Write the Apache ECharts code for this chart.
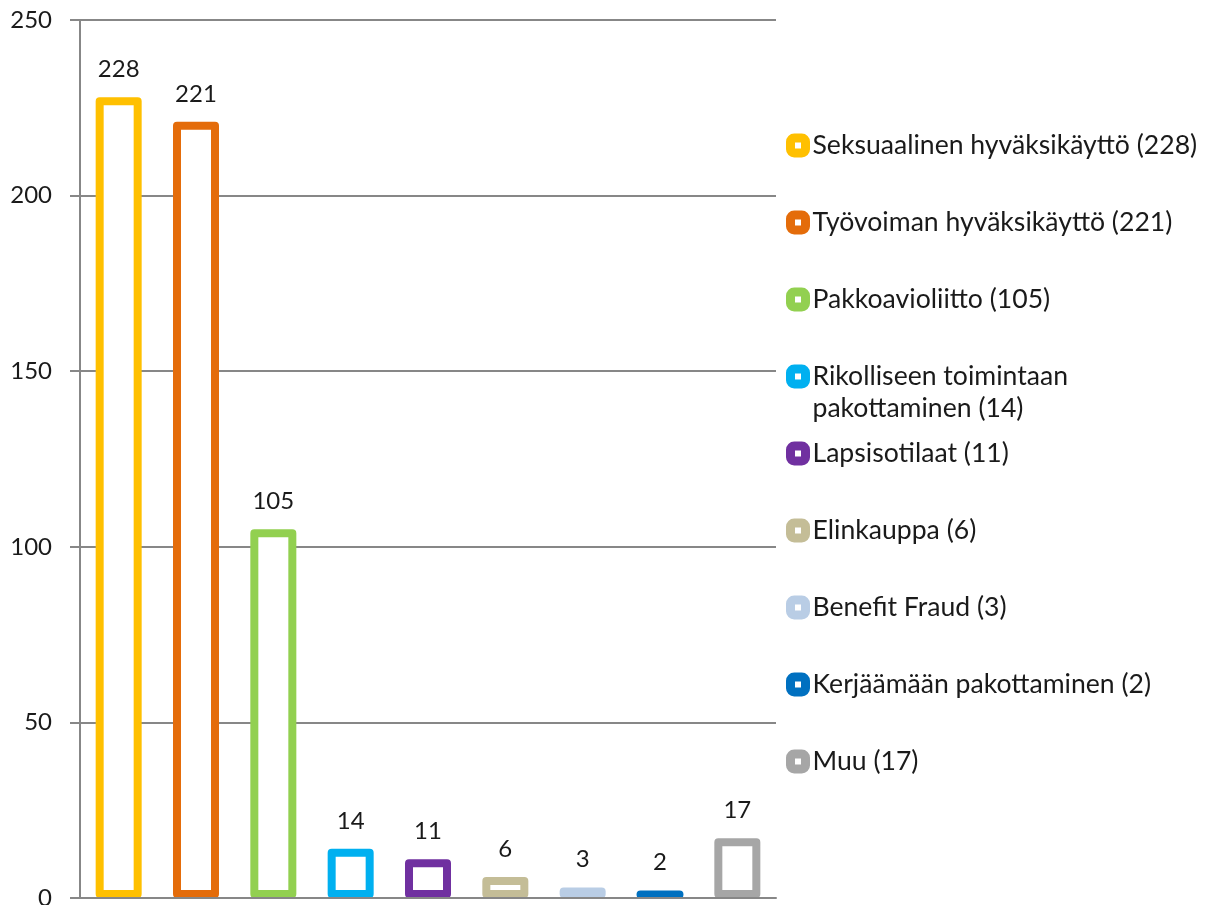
<!DOCTYPE html>
<html><head><meta charset="utf-8">
<script src="https://cdn.jsdelivr.net/npm/echarts@6/dist/echarts.min.js"></script>
<style>html,body{margin:0;padding:0;background:#fff}#c{width:1208px;height:905px}</style>
</head><body><div id="c"></div>
<script>
const categories = ['Seksuaalinen hyväksikäyttö','Työvoiman hyväksikäyttö','Pakkoavioliitto','Rikolliseen toimintaan pakottaminen','Lapsisotilaat','Elinkauppa','Benefit Fraud','Kerjäämään pakottaminen','Muu'];
const values = [228, 221, 105, 14, 11, 6, 3, 2, 17];
const legendNames = ['Seksuaalinen hyväksikäyttö (228)','Työvoiman hyväksikäyttö (221)','Pakkoavioliitto (105)','Rikolliseen toimintaan pakottaminen (14)','Lapsisotilaat (11)','Elinkauppa (6)','Benefit Fraud (3)','Kerjäämään pakottaminen (2)','Muu (17)'];
const colors = ['#FFC000','#E46C0A','#92D050','#00B0F0','#7030A0','#C4BD97','#B9CDE5','#0070C0','#A6A6A6'];
const yTicks = [0, 50, 100, 150, 200, 250];

const FONT = 'Lato';
const TXT = '#1a1a1a';
const GRAY = '#878787';
const LH = 32;
const ICON = 15;

const chart = echarts.init(document.getElementById('c'), null, {renderer: 'canvas'});

const legends = legendNames.map((n, i) => {
  const twoLine = n.startsWith('Rikolliseen');
  const centerY = 146 + 77 * i;
  return {
    orient: 'vertical', left: 786, top: twoLine ? centerY - ICON / 2 - 41 : centerY - ICON / 2 - 9,
    padding: 0, itemWidth: ICON, itemHeight: ICON, icon: 'roundRect',
    data: [n],
    selectedMode: false,
    formatter: (s) => s.startsWith('Rikolliseen') ? ' \nRikolliseen toimintaan\npakottaminen (14)' : s,
    itemStyle: {color: '#fff', borderColor: colors[i], borderWidth: 9, borderJoin: 'round'},
    textStyle: {fontFamily: FONT, fontSize: 26.6, color: TXT, lineHeight: LH, padding: [0, 0, 0, 2]}
  };
});

chart.setOption({
  animation: false,
  backgroundColor: '#fff',
  grid: {left: 80, right: 432, top: 20, bottom: 7, containLabel: false, outerBoundsMode: 'none'},
  legend: legends,
  xAxis: {
    type: 'category', data: categories,
    axisLabel: {show: false}, axisTick: {show: false},
    axisLine: {show: true, lineStyle: {color: GRAY, width: 2}}, z: 5
  },
  yAxis: {
    type: 'value', min: yTicks[0], max: yTicks[yTicks.length - 1], interval: 50,
    axisLine: {show: true, lineStyle: {color: GRAY, width: 2}},
    axisTick: {show: true, length: 10, lineStyle: {color: GRAY, width: 2}},
    splitLine: {show: true, lineStyle: {color: GRAY, width: 2}},
    axisLabel: {fontFamily: FONT, fontSize: 24, color: TXT, margin: 28}
  },
  series: categories.map((c, i) => ({
    name: legendNames[i], type: 'bar', stack: 'all', barWidth: 46,
    data: values.map((v, j) => j === i ? v : '-'),
    itemStyle: {color: '#fff', borderColor: colors[i], borderWidth: 8, borderJoin: 'round'},
    label: {show: true, position: 'top', distance: 16, fontFamily: FONT, fontSize: 24, color: TXT}
  }))
});
</script></body></html>
